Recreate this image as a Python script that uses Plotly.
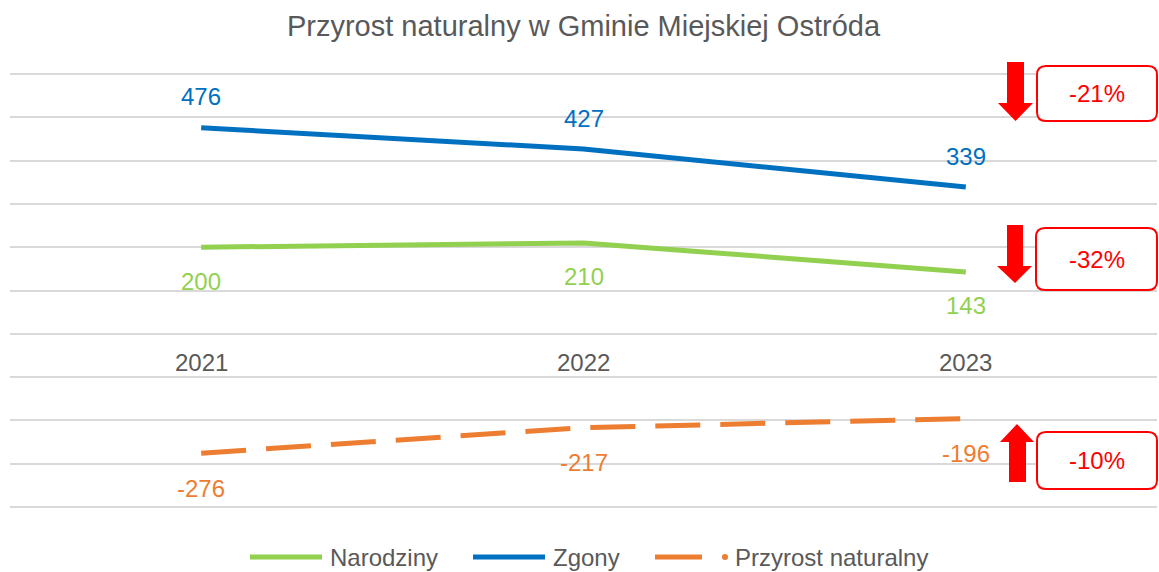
import plotly.graph_objects as go

years = ["2021", "2022", "2023"]
series_names = ["Narodziny", "Zgony", "Przyrost naturalny"]
narodziny = [200, 210, 143]
zgony = [476, 427, 339]
przyrost = [-276, -217, -196]
changes = ["-21%", "-32%", "-10%"]

W, H = 1159, 572
L, R, T, B = 10, 2, 72, 63
PW = W - L - R
PH = H - T - B

def px(x):
    return (x - L) / PW

def py(y):
    return (H - B - y) / PH

GREEN = "#92D050"
BLUE = "#0070C0"
ORANGE = "#ED7D31"
RED = "#FF0000"
GRAY = "#595959"
FONT = "Liberation Sans, Arial, sans-serif"
DASH = "45px,20px"

fig = go.Figure()
fig.add_trace(go.Scatter(x=years, y=narodziny, mode="lines", name=series_names[0],
                         line=dict(color=GREEN, width=5), showlegend=False))
fig.add_trace(go.Scatter(x=years, y=zgony, mode="lines", name=series_names[1],
                         line=dict(color=BLUE, width=5), showlegend=False))
fig.add_trace(go.Scatter(x=years, y=przyrost, mode="lines", name=series_names[2],
                         line=dict(color=ORANGE, width=5, dash=DASH), showlegend=False))

annotations = []
def lab(i, y, text, color, shift):
    annotations.append(dict(x=i, y=y, xref="x", yref="y", text=text, showarrow=False,
                            xanchor="center", yanchor="middle", yshift=shift,
                            font=dict(color=color, size=24)))

for i, v in enumerate(zgony):
    lab(i, v, str(v), BLUE, 31)
for i, v in enumerate(narodziny):
    lab(i, v, str(v), GREEN, -34)
for i, v in enumerate(przyrost):
    lab(i, v, str(v), ORANGE, -35)
for i, yr in enumerate(years):
    lab(i, 0, yr, GRAY, -29)

shapes = []

def rrect(x0, y0, x1, y1, r=9):
    return (f"M {px(x0+r)} {py(y0)} L {px(x1-r)} {py(y0)} "
            f"Q {px(x1)} {py(y0)} {px(x1)} {py(y0+r)} L {px(x1)} {py(y1-r)} "
            f"Q {px(x1)} {py(y1)} {px(x1-r)} {py(y1)} L {px(x0+r)} {py(y1)} "
            f"Q {px(x0)} {py(y1)} {px(x0)} {py(y1-r)} L {px(x0)} {py(y0+r)} "
            f"Q {px(x0)} {py(y0)} {px(x0+r)} {py(y0)} Z")

def poly(pts):
    return "M " + " L ".join(f"{px(a)} {py(b)}" for a, b in pts) + " Z"

# change boxes (pixel geometry of decoration)
boxes = [(1037, 66, 1157, 121), (1036, 228, 1157, 290), (1037, 432, 1157, 489)]
for (x0, y0, x1, y1), txt in zip(boxes, changes):
    shapes.append(dict(type="path", xref="paper", yref="paper", path=rrect(x0, y0, x1, y1),
                       line=dict(color=RED, width=2), fillcolor="white", layer="above"))
    annotations.append(dict(xref="paper", yref="paper", x=px((x0 + x1) / 2), y=py((y0 + y1) / 2),
                            xanchor="center", yanchor="middle",
                            text=txt, showarrow=False, font=dict(color=RED, size=24)))

# arrows
down1 = [(1007, 62), (1024, 62), (1024, 103), (1033, 103), (1015.5, 121), (998, 103), (1007, 103)]
down2 = [(1007, 225), (1023, 225), (1023, 266), (1032, 266), (1015, 283), (997, 266), (1007, 266)]
up3 = [(1009, 482), (1026, 482), (1026, 442), (1034, 442), (1017, 424), (1000, 442), (1009, 442)]
for p in (down1, down2, up3):
    shapes.append(dict(type="path", xref="paper", yref="paper", path=poly(p),
                       line=dict(width=0), fillcolor=RED, layer="above"))

# custom legend
LEG_Y = 557
legend_items = [(250, 322, GREEN, False), (473, 545, BLUE, False), (655, 727, ORANGE, True)]
for (x0, x1, col, dashed), name in zip(legend_items, series_names):
    xe = x0 + 47 if dashed else x1
    shapes.append(dict(type="line", xref="paper", yref="paper", x0=px(x0), x1=px(xe),
                       y0=py(LEG_Y), y1=py(LEG_Y), line=dict(color=col, width=5)))
    if dashed:
        shapes.append(dict(type="circle", xref="paper", yref="paper",
                           x0=px(x1 - 5), x1=px(x1 + 1), y0=py(LEG_Y - 3), y1=py(LEG_Y + 3),
                           line=dict(width=0), fillcolor=col))
    annotations.append(dict(xref="paper", yref="paper", x=px(x1 + 6), y=py(LEG_Y),
                            xanchor="left", yanchor="middle", text=name, showarrow=False,
                            font=dict(color=GRAY, size=24)))

fig.update_layout(
    width=W, height=H,
    margin=dict(l=L, r=R, t=T, b=B),
    paper_bgcolor="white", plot_bgcolor="white",
    font=dict(family=FONT, color=GRAY),
    title=dict(text="Przyrost naturalny w Gminie Miejskiej Ostróda", x=px(583.5), xanchor="center",
               xref="paper", y=1 - 26 / H, yanchor="middle", font=dict(size=29, color=GRAY)),
    xaxis=dict(type="category", range=[-0.5, 2.5], showticklabels=False, showgrid=False,
               zeroline=False, showline=False, fixedrange=True),
    yaxis=dict(range=[-405, 605], tickvals=list(range(-400, 601, 100)), showticklabels=False,
               showgrid=True, gridcolor="#D9D9D9", gridwidth=2, zeroline=False, showline=False),
    showlegend=False,
    annotations=annotations,
    shapes=shapes,
)

fig.write_html("out.html", config={"displayModeBar": False},
               post_script="document.body.style.margin='0';document.body.style.padding='0';")
